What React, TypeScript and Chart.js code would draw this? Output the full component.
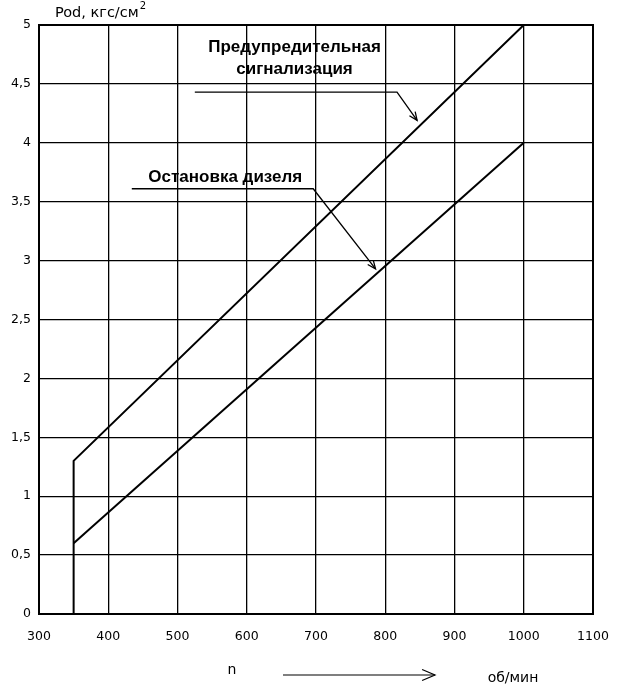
import React, { useEffect, useRef } from "react";
import { Chart, registerables } from "chart.js";

Chart.register(...registerables);

// Data (x: n, об/мин; y: Pod, кгс/см²)
const warnX = [350, 350, 1000];
const warnY = [0, 1.3, 5.0];
const stopX = [350, 1000];
const stopY = [0.6, 4.0];

const xTicks = [300, 400, 500, 600, 700, 800, 900, 1000, 1100];
const yTicks = [0, 0.5, 1, 1.5, 2, 2.5, 3, 3.5, 4, 4.5, 5];

const warnLabel = ["Предупредительная", "сигнализация"];
const stopLabel = ["Остановка дизеля"];

// Annotation anchors in data units: text centre, leader start, bend, arrow tip
const warnText = [669, 4.81, 4.62];
const warnLeader = [525, 4.43, 817, 4.43, 846, 4.19];
const stopText = [569, 3.71];
const stopLeader = [434, 3.61, 696, 3.61, 786, 2.93];

const yTitle = "Pod, кгс/см";
const xTitleN = "n";
const xTitleUnit = "об/мин";

function arrowHead(ctx: CanvasRenderingContext2D, x0: number, y0: number, x1: number, y1: number, size: number) {
  const a = Math.atan2(y1 - y0, x1 - x0);
  ctx.beginPath();
  ctx.moveTo(x1 - size * Math.cos(a - 0.4), y1 - size * Math.sin(a - 0.4));
  ctx.lineTo(x1, y1);
  ctx.lineTo(x1 - size * Math.cos(a + 0.4), y1 - size * Math.sin(a + 0.4));
  ctx.stroke();
}

const annotPlugin = {
  id: "annot",
  afterDraw(chart: any) {
    const ctx = chart.ctx as CanvasRenderingContext2D;
    const xs = chart.scales.x;
    const ys = chart.scales.y;
    const px = (v: number) => xs.getPixelForValue(v);
    const py = (v: number) => ys.getPixelForValue(v);
    ctx.save();
    ctx.fillStyle = "#000";
    ctx.strokeStyle = "#000";
    ctx.lineWidth = 1.3;

    // annotation texts
    ctx.font = "bold 17px 'Liberation Sans', Arial, sans-serif";
    ctx.textAlign = "center";
    ctx.textBaseline = "middle";
    ctx.fillText(warnLabel[0], px(warnText[0]), py(warnText[1]));
    ctx.fillText(warnLabel[1], px(warnText[0]), py(warnText[2]));
    ctx.fillText(stopLabel[0], px(stopText[0]), py(stopText[1]));

    // leaders
    const drawLeader = (l: number[]) => {
      ctx.beginPath();
      ctx.moveTo(px(l[0]), py(l[1]));
      ctx.lineTo(px(l[2]), py(l[3]));
      ctx.lineTo(px(l[4]), py(l[5]));
      ctx.stroke();
      arrowHead(ctx, px(l[2]), py(l[3]), px(l[4]), py(l[5]), 9);
    };
    drawLeader(warnLeader);
    drawLeader(stopLeader);

    // y title
    ctx.font = "14.5px 'DejaVu Sans', sans-serif";
    ctx.textAlign = "left";
    ctx.textBaseline = "middle";
    const tx = 55;
    const ty = 13;
    ctx.fillText(yTitle, tx, ty);
    const w = ctx.measureText(yTitle).width;
    ctx.font = "10px 'DejaVu Sans', sans-serif";
    ctx.fillText("2", tx + w + 1, ty - 7);

    // x title
    ctx.font = "14px 'DejaVu Sans', sans-serif";
    ctx.textAlign = "center";
    ctx.fillText(xTitleN, 232, 670);
    ctx.fillText(xTitleUnit, 513, 678);
    ctx.lineWidth = 1.2;
    ctx.beginPath();
    ctx.moveTo(283, 675);
    ctx.lineTo(435, 675);
    ctx.stroke();
    arrowHead(ctx, 283, 675, 435, 675, 14);
    ctx.restore();
  },
};

export default function App() {
  const ref = useRef<HTMLCanvasElement | null>(null);
  useEffect(() => {
    if (!ref.current) return;
    const chart = new Chart(ref.current, {
      type: "scatter",
      data: {
        datasets: [
          {
            label: warnLabel.join(" "),
            data: warnX.map((x, i) => ({ x, y: warnY[i] })),
            showLine: true,
            borderColor: "#000",
            borderWidth: 2,
            pointRadius: 0,
            fill: false,
          },
          {
            label: stopLabel[0],
            data: stopX.map((x, i) => ({ x, y: stopY[i] })),
            showLine: true,
            borderColor: "#000",
            borderWidth: 2,
            pointRadius: 0,
            fill: false,
          },
        ],
      },
      options: {
        animation: false,
        responsive: false,
        layout: { padding: { top: 25, right: 31, bottom: 36, left: 0 } },
        plugins: { legend: { display: false }, tooltip: { enabled: false } },
        scales: {
          x: {
            type: "linear",
            min: xTicks[0],
            max: xTicks[xTicks.length - 1],
            afterBuildTicks: (s: any) => {
              s.ticks = xTicks.map((v) => ({ value: v }));
            },
            afterFit: (s: any) => {
              s.height = 40;
            },
            grid: { color: "#000", lineWidth: 1.3, drawTicks: false },
            border: { color: "#000", width: 2 },
            ticks: {
              color: "#000",
              padding: 15,
              font: { family: "'DejaVu Sans', sans-serif", size: 12.5 },
              maxRotation: 0,
              callback: (v: any) => String(v),
            },
          },
          y: {
            type: "linear",
            min: yTicks[0],
            max: yTicks[yTicks.length - 1],
            afterBuildTicks: (s: any) => {
              s.ticks = yTicks.map((v) => ({ value: v }));
            },
            afterFit: (s: any) => {
              s.width = 39;
            },
            grid: { color: "#000", lineWidth: 1.3, drawTicks: false },
            border: { color: "#000", width: 2 },
            ticks: {
              color: "#000",
              padding: 8,
              font: { family: "'DejaVu Sans', sans-serif", size: 12.5 },
              callback: (v: any) => String(v).replace(".", ","),
            },
          },
        },
      },
      plugins: [
        annotPlugin,
        {
          id: "frame",
          afterDatasetsDraw(chart: any) {
            const { left, right, top, bottom } = chart.chartArea;
            const ctx = chart.ctx;
            ctx.save();
            ctx.strokeStyle = "#000";
            ctx.lineWidth = 2;
            ctx.strokeRect(left, top, right - left, bottom - top);
            ctx.restore();
          },
        },
      ],
    });
    return () => chart.destroy();
  }, []);
  return (
    <div style={{ position: "fixed", left: 0, top: 0, width: 624, height: 690, background: "#fff" }}>
      <canvas ref={ref} width={624} height={690} style={{ width: 624, height: 690 }} />
    </div>
  );
}
